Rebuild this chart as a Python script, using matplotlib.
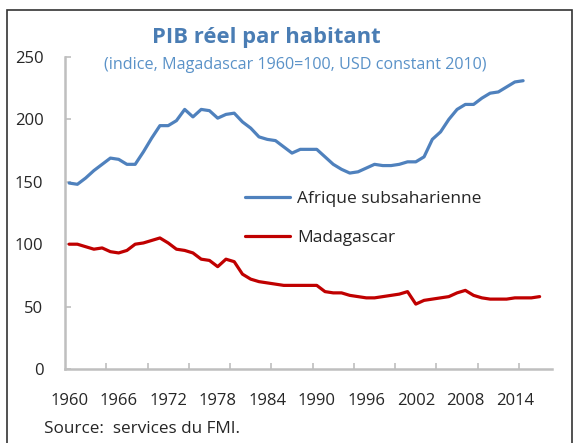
import numpy as np
import matplotlib.pyplot as plt
from matplotlib.patches import Rectangle

# données (indice, Madagascar 1960 = 100)
annees_afrique = np.arange(1960, 2016)
afrique = [149, 148, 153, 159, 164, 169, 168, 164, 164, 174,
           185, 195, 195, 199, 208, 202, 208, 207, 201, 204,
           205, 198, 193, 186, 184, 183, 178, 173, 176, 176,
           176, 170, 164, 160, 157, 158, 161, 164, 163, 163,
           164, 166, 166, 170, 184, 190, 200, 208, 212, 212,
           217, 221, 222, 226, 230, 231]

annees_mdg = np.arange(1960, 2018)
madagascar = [100, 100, 98, 96, 97, 94, 93, 95, 100, 101,
              103, 105, 101, 96, 95, 93, 88, 87, 82, 88,
              86, 76, 72, 70, 69, 68, 67, 67, 67, 67,
              67, 62, 61, 61, 59, 58, 57, 57, 58, 59,
              60, 62, 52, 55, 56, 57, 58, 61, 63, 59,
              57, 56, 56, 56, 57, 57, 57, 58]

etiquettes_x = np.arange(1960, 2015, 6)
etiquettes_y = [0, 50, 100, 150, 200, 250]

bleu = '#4f81bd'
rouge = '#c00000'
gris = '#bfbfbf'
texte = '#262626'

plt.rcParams['font.family'] = ['Open Sans', 'DejaVu Sans']

fig = plt.figure(figsize=(5.74, 4.43), dpi=100)
ax = fig.add_axes([65 / 574, 1 - 369 / 443, 487 / 574, 312 / 443])

ax.plot(annees_afrique, afrique, color=bleu, lw=2.3, label='Afrique subsaharienne',
        solid_joinstyle='round', solid_capstyle='round')
ax.plot(annees_mdg, madagascar, color=rouge, lw=2.3, label='Madagascar',
        solid_joinstyle='round', solid_capstyle='round')

ax.set_xlim(1959.5, 2018.5)
ax.set_ylim(0, 250)

ax.set_xticks(etiquettes_x)
ax.set_xticks(np.arange(1964.5, 2018, 5), minor=True)
ax.set_yticks(etiquettes_y)
ax.tick_params(axis='x', which='major', length=0, pad=17, labelsize=12, labelcolor=texte)
ax.tick_params(axis='x', which='minor', direction='in', length=4, width=1.2, color=gris)
ax.tick_params(axis='y', which='major', direction='in', length=4, width=1.2, color=gris,
               pad=15.5, labelsize=12, labelcolor=texte)

for s in ['top', 'right']:
    ax.spines[s].set_visible(False)
for s in ['left', 'bottom']:
    ax.spines[s].set_color(gris)
    ax.spines[s].set_linewidth(1.8)

ax.legend(loc='center left', bbox_to_anchor=(0.3696, 0.482), frameon=False,
          fontsize=12.5, handlelength=2.6, handletextpad=0.4, labelspacing=1.3,
          borderpad=0, borderaxespad=0, labelcolor=texte)

fig.text(266 / 574, 1 - 38 / 443, 'PIB réel par habitant', color='#4a7db4',
         fontsize=15.8, fontweight='bold', ha='center', va='center')
fig.text(295 / 574, 1 - 65 / 443, '(indice, Magadascar 1960=100, USD constant 2010)',
         color='#5a92c8', fontsize=11.6, ha='center', va='center')
fig.text(44 / 574, 1 - 429 / 443, 'Source:  services du FMI.', color=texte,
         fontsize=12.3, ha='left', va='center')

fig.patches.append(Rectangle((7 / 574, -0.1), 565 / 574, 1.1 - 10 / 443,
                             transform=fig.transFigure, fill=False,
                             edgecolor='#333333', lw=1.2))

plt.savefig('out.png', dpi=100)
